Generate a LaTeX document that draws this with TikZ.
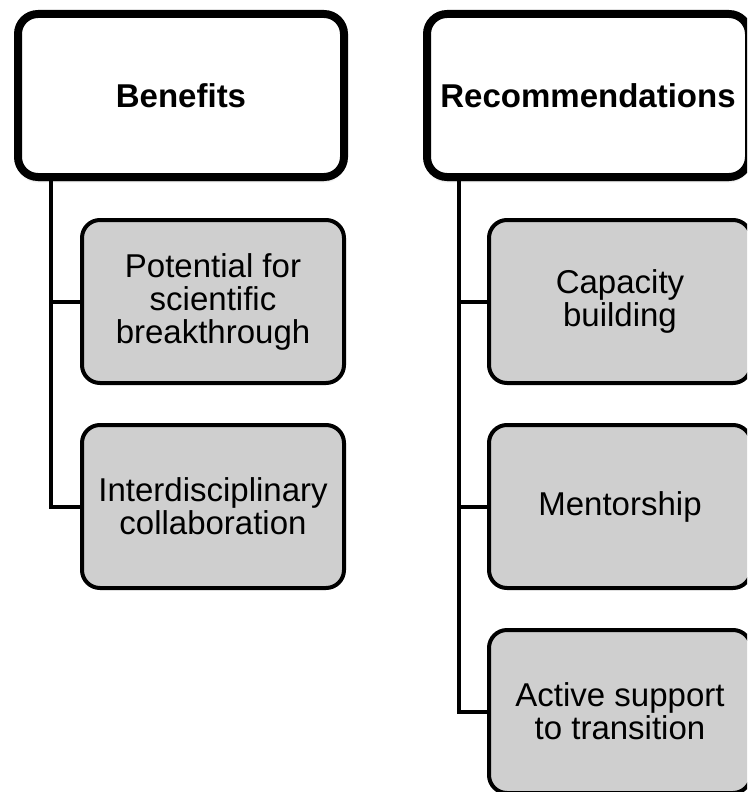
\documentclass[tikz,border=0pt]{standalone}
\usepackage{fontspec}
\setmainfont{Liberation Sans}
\usetikzlibrary{positioning,shadows.blur}
\definecolor{itemgray}{RGB}{207,207,207}
\begin{document}
\begin{tikzpicture}[x=1pt,y=-1pt,node distance=205pt,
  head/.style={draw,line width=8pt,rounded corners=20pt,fill=white,outer sep=0pt,
    minimum height=163pt,font=\bfseries\fontsize{33}{36}\selectfont,
    blur shadow={shadow xshift=0pt,shadow yshift=-4pt,shadow opacity=25,shadow blur steps=6}},
  item/.style={draw,line width=4pt,rounded corners=18pt,fill=itemgray,
    minimum width=262pt,minimum height=163pt,align=center,
    font=\fontsize{33}{33}\selectfont},
  link/.style={line width=4pt}]
\useasboundingbox (0,0) rectangle (747,792);
\begin{scope}
\clip (0,0) rectangle (747,792);
\node[head,minimum width=326pt] (ben) at (181,95.5) {Benefits};
\node[head,minimum width=322pt,right of=ben,node distance=407pt] (rec) {Recommendations};
% left column
\node[item] (pot) at (213,301.5) {Potential for\\scientific\\breakthrough};
\node[item,below of=pot] (inter) {Interdisciplinary\\collaboration};
% right column
\node[item] (cap) at (620,301.5) {Capacity\\building};
\node[item,below of=cap] (ment) {Mentorship};
\node[item,below of=ment] (act) {Active support\\to transition};
\end{scope}
\draw[link] ([xshift=32.5pt]ben.south west) |- (inter.west);
\draw[link] (pot.west) -| ([xshift=32.5pt]ben.south west);
\draw[link] ([xshift=32pt]rec.south west) |- (act.west);
\draw[link] (cap.west) -| ([xshift=32pt]rec.south west);
\draw[link] (ment.west) -| ([xshift=32pt]rec.south west);
\end{tikzpicture}
\end{document}
